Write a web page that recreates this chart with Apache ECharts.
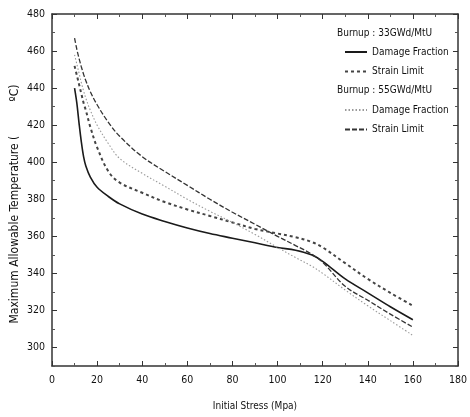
<!DOCTYPE html>
<html><head><meta charset="utf-8">
<script src="https://cdn.jsdelivr.net/npm/echarts@6/dist/echarts.min.js"></script>
<style>html,body{margin:0;padding:0;background:#fff}#c{width:470px;height:417px}</style>
</head><body><div id="c"></div>
<script>
const stress = [10, 11, 12, 13, 14, 15, 17, 20, 25, 30, 40, 50, 60, 70, 80, 90, 100, 108, 115, 120, 130, 140, 150, 160];
const df33 = [440, 432, 421, 411, 403, 398, 392, 386.5, 381.5, 377.5, 372, 368, 364.5, 361.5, 359, 356.5, 354, 352.5, 350, 346.5, 337, 329.5, 322, 315];
const sl33 = [452, 447, 442, 437, 432, 428, 419, 408, 395, 389, 383.5, 378.5, 374.5, 371, 367.5, 364, 361.5, 359.5, 357, 354, 345.5, 337, 329.5, 322.5];
const df55 = [458, 453, 448, 443, 438.5, 434.5, 428, 420, 410, 402, 394, 387, 380, 373.5, 367.5, 361, 354, 348.5, 344, 340, 331, 322.5, 314.5, 306.5];
const sl55 = [467, 461, 456, 451.5, 447.5, 444, 438, 431, 421.5, 414, 403, 395, 387.5, 380, 373, 366.5, 360, 355, 350.5, 346, 333, 325.5, 318, 311];
const xTicks = [0, 20, 40, 60, 80, 100, 120, 140, 160, 180];
const yTicks = [300, 320, 340, 360, 380, 400, 420, 440, 460, 480];
const yMinor = [290, 310, 330, 350, 370, 390, 410, 430, 450, 470];
const heading33 = 'Burnup : 33GWd/MtU';
const heading55 = 'Burnup : 55GWd/MtU';
const yTitle = 'Maximum Allowable Temperature (          \u00BAC)';
const xTitle = 'Initial Stress (Mpa)';

const FONT = "'Liberation Sans Narrow','DejaVu Sans Condensed','Liberation Sans',sans-serif";
const pair = ys => stress.map((x, i) => [x, ys[i]]);
const chart = echarts.init(document.getElementById('c'), null, {renderer: 'canvas'});
const axLine = {show: true, lineStyle: {color: '#333', width: 1.5}};
const mk = (name, ys, color, width, type) => ({
  name, type: 'line', data: pair(ys), showSymbol: false, symbol: 'none', smooth: 0.35,
  lineStyle: {color, width, type}, itemStyle: {color}, xAxisIndex: 0, yAxisIndex: 0, z: 3
});
const legendBase = {
  orient: 'vertical', left: 344, padding: 0, itemWidth: 22, itemHeight: 10, itemGap: 9.5,
  itemStyle: {color: 'rgba(0,0,0,0)', borderWidth: 0, opacity: 0},
  textStyle: {fontFamily: FONT, fontSize: 10, color: '#111'},
  formatter: n => n.replace(/^\S+ /, ''), selectedMode: false
};
chart.setOption({
  animation: false,
  grid: {left: 52, right: 7, top: 14, bottom: 51, containLabel: false},
  xAxis: [
    {type: 'value', min: 0, max: 180, interval: 20, position: 'bottom',
     name: xTitle, nameLocation: 'middle', nameGap: 35,
     nameTextStyle: {fontFamily: FONT, fontSize: 10, color: '#111'},
     axisLine: axLine, splitLine: {show: false},
     axisTick: {inside: true, length: 5, lineStyle: {color: '#333'}, customValues: xTicks},
     minorTick: {show: true, splitNumber: 2, length: 3, lineStyle: {color: '#555'}},
     axisLabel: {fontFamily: FONT, fontSize: 10.5, color: '#111', margin: 9, customValues: xTicks}},
    {type: 'value', min: 0, max: 180, interval: 20, position: 'top',
     axisLine: axLine, splitLine: {show: false},
     axisTick: {inside: true, length: 5, lineStyle: {color: '#333'}},
     minorTick: {show: true, splitNumber: 2, length: 3, lineStyle: {color: '#555'}},
     axisLabel: {show: false}}
  ],
  yAxis: [
    {type: 'value', min: 290, max: 480, position: 'left',
     axisLine: axLine, splitLine: {show: false},
     axisTick: {inside: true, length: 5, lineStyle: {color: '#333'}, customValues: yTicks},
     axisLabel: {fontFamily: FONT, fontSize: 10.5, color: '#111', margin: 7, customValues: yTicks}},
    {type: 'value', min: 290, max: 480, position: 'left',
     axisLine: {show: false}, splitLine: {show: false},
     axisTick: {inside: true, length: 3, lineStyle: {color: '#555'}, customValues: yMinor},
     axisLabel: {show: false}},
    {type: 'value', min: 290, max: 480, position: 'right',
     axisLine: axLine, splitLine: {show: false},
     axisTick: {inside: true, length: 5, lineStyle: {color: '#333'}, customValues: yTicks},
     axisLabel: {show: false}},
    {type: 'value', min: 290, max: 480, position: 'right',
     axisLine: {show: false}, splitLine: {show: false},
     axisTick: {inside: true, length: 3, lineStyle: {color: '#555'}, customValues: yMinor},
     axisLabel: {show: false}}
  ],
  legend: [
    Object.assign({}, legendBase, {top: 47, data: ['33GWd/MtU Damage Fraction', '33GWd/MtU Strain Limit']}),
    Object.assign({}, legendBase, {top: 105, data: ['55GWd/MtU Damage Fraction', '55GWd/MtU Strain Limit']})
  ],
  graphic: [
    {type: 'text', left: 337, top: 28, style: {text: heading33, font: '10px ' + FONT, fill: '#111'}},
    {type: 'text', left: 337, top: 85, style: {text: heading55, font: '10px ' + FONT, fill: '#111'}},
    {type: 'text', x: 15, y: 204, rotation: Math.PI / 2,
     style: {text: yTitle, font: '12px ' + FONT, fill: '#111', align: 'center', verticalAlign: 'middle'}}
  ],
  series: [
    mk('33GWd/MtU Damage Fraction', df33, '#1a1a1a', 1.6, 'solid'),
    mk('33GWd/MtU Strain Limit', sl33, '#444', 2, [3, 3]),
    mk('55GWd/MtU Damage Fraction', df55, '#9a9a9a', 1.1, [1.5, 2]),
    mk('55GWd/MtU Strain Limit', sl55, '#333', 1.3, [5, 2])
  ]
});
</script></body></html>
